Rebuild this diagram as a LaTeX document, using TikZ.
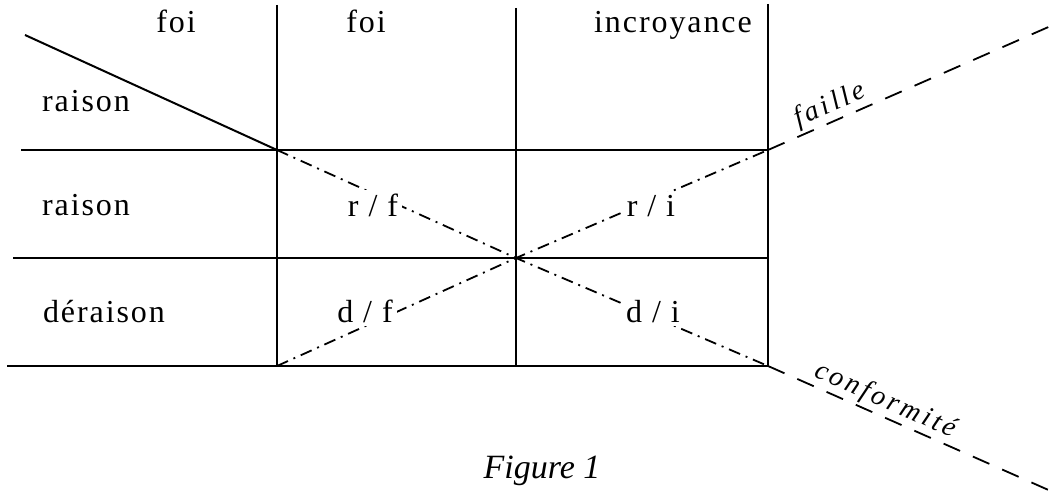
\documentclass[tikz,border=0pt]{standalone}
\usepackage{fontspec}
\setmainfont{Liberation Serif}
\newfontfamily\spacedfont[LetterSpace=6]{Liberation Serif}
\newfontfamily\handfont[LetterSpace=12]{Liberation Serif}

\begin{document}
\begin{tikzpicture}[
    x=0.5pt, y=-0.5pt,
    tabline/.style  ={line width=1pt},
    crossline/.style={line width=0.9pt, dash pattern=on 6pt off 3pt on 1pt off 3pt},
    rayline/.style  ={line width=0.9pt, dash pattern=on 9pt off 7pt},
    lbl/.style      ={font=\spacedfont\fontsize{16}{18}\selectfont, inner sep=0pt, anchor=base},
    cell/.style     ={lbl, fill=white, inner sep=2pt},
    hand/.style     ={font=\handfont\itshape\fontsize{14}{16}\selectfont, inner sep=1pt},
]
\useasboundingbox (0,0) rectangle (1053,497);
% corners of the four cells
\coordinate (tl)  at (277,150);
\coordinate (tr)  at (768,150);
\coordinate (bl)  at (277,366);
\coordinate (br)  at (768,366);
\coordinate (mid) at (516,258);
\coordinate (failleEnd) at (1053,25);
\coordinate (confEnd)   at (1053,492);
% table rules
\draw[tabline] (21,150) -- (tr);
\draw[tabline] (13,258) -- (768,258);
\draw[tabline] (7,366) -- (br);
\draw[tabline] (277,5) -- (bl);
\draw[tabline] (516,8) -- (516,367);
\draw[tabline] (768,4) -- (br);
\draw[tabline] (25,35) -- (tl);
% crossing diagonals
\draw[crossline] (tl) -- (mid) -- (br);
\draw[crossline] (bl) -- (mid) -- (tr);
\draw[rayline] (tr) -- (failleEnd)
     node[pos=0.24, sloped, above, hand] (faille) {faille};
\draw[rayline] (br) -- (confEnd)
     node[pos=0.39, sloped, above, hand] (conf) {conformité};
% headings
\node[lbl] (hfoi)   at (176,33) {foi};
\node[lbl] (hraison) at (86,112) {raison};
\node[lbl] (cfoi)   at (366,33) {foi};
\node[lbl] (cincr)  at (673,33) {incroyance};
\node[lbl] (rraison) at (86,215) {raison};
\node[lbl] (rderaison) at (104,322) {déraison};
% cells
\node[cell] (rf) at (373,217) {r / f};
\node[cell] (ri) at (651,217) {r / i};
\node[cell] (df) at (365,322) {d / f};
\node[cell] (di) at (653,322) {d / i};
% caption
\node[font=\itshape\fontsize{17}{19}\selectfont, anchor=base] (caption) at (542,478) {Figure 1};
\end{tikzpicture}
\end{document}
